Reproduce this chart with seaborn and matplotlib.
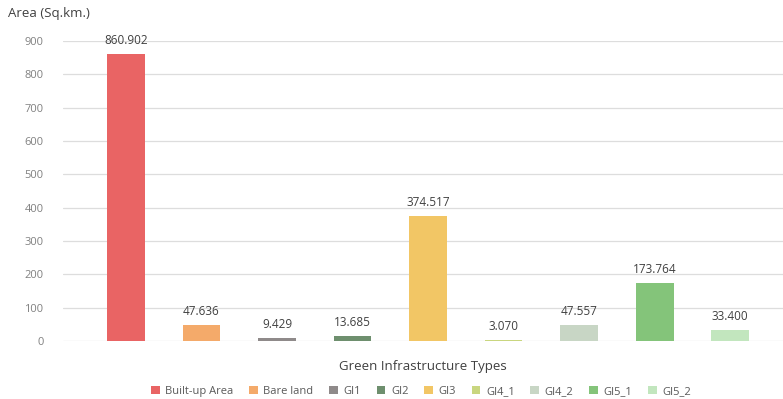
import pandas as pd
import seaborn as sns
from matplotlib import pyplot as plt

categories = ["Built-up Area", "Bare land", "GI1", "GI2", "GI3", "GI4_1", "GI4_2", "GI5_1", "GI5_2"]
areas = [860.902, 47.636, 9.429, 13.685, 374.517, 3.070, 47.557, 173.764, 33.400]
colors = ["#E96464", "#F4AA6A", "#8F8A8A", "#6E8F6E", "#F2C665",
          "#C9D67F", "#C8D6C5", "#84C47A", "#C2E6BE"]

if __name__ == '__main__':
    sns.set_style("white")
    plt.rcParams['font.family'] = ['Open Sans', 'DejaVu Sans']

    data = pd.DataFrame({"type": categories, "area": areas})

    fig = plt.figure(figsize=(7.83, 3.99), dpi=100)
    ax = fig.add_axes([0.0805, 0.1454, 0.9195, 0.752])

    sns.barplot(data=data, x="type", y="area", hue="type", palette=colors,
                width=0.5, dodge=False, legend=True, ax=ax, saturation=1, linewidth=0)

    for cont in ax.containers:
        ax.bar_label(cont, fmt="%.3f", padding=5, fontsize=8.5, color="#404040")

    ax.set_ylim(0, 900)
    ax.set_xlim(-0.834, 8.70)
    ax.set_yticks(range(0, 901, 100))
    ax.tick_params(axis="y", colors="#808080", labelsize=8, length=0, pad=14)
    ax.set_xticks([])
    ax.grid(True, axis="y", color="#DDDDDD", linewidth=0.9)
    ax.set_axisbelow(True)
    for s in ax.spines.values():
        s.set_visible(False)

    ax.set_ylabel("")
    ax.set_xlabel("Green Infrastructure Types", fontsize=9.5, color="#404040", labelpad=14)
    fig.text(0.01, 0.965, "Area (Sq.km.)", fontsize=9.5, color="#404040", va="center")

    handles, labels = ax.get_legend_handles_labels()
    ax.legend(handles, labels, loc="center", bbox_to_anchor=(0.497, -0.167), ncol=9,
              frameon=False, fontsize=8, handlelength=0.8, handleheight=0.8,
              columnspacing=1.4, handletextpad=0.5, labelcolor="#595959")

    fig.savefig("out.png", dpi=100)
